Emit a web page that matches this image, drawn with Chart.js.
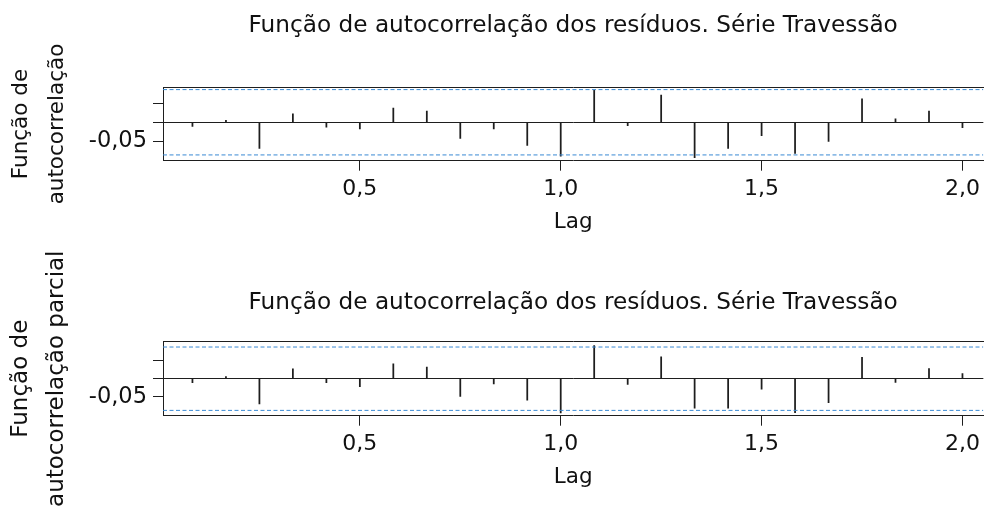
<!DOCTYPE html>
<html>
<head>
<meta charset="utf-8">
<script src="https://cdn.jsdelivr.net/npm/chart.js@4/dist/chart.umd.min.js"></script>
<style>
  body { margin: 0; background: #fff; }
  #wrap { position: relative; width: 985px; height: 509px; overflow: hidden; }
  canvas { position: absolute; left: 0; }
</style>
</head>
<body>
<div id="wrap">
  <canvas id="acf" width="985" height="255" style="top:0"></canvas>
  <canvas id="pacf" width="985" height="274" style="top:235px"></canvas>
</div>
<script>
// lags in years (k/12)
const lags = [0.0833, 0.1667, 0.25, 0.3333, 0.4167, 0.5, 0.5833, 0.6667, 0.75, 0.8333, 0.9167, 1.0,
              1.0833, 1.1667, 1.25, 1.3333, 1.4167, 1.5, 1.5833, 1.6667, 1.75, 1.8333, 1.9167, 2.0];

// autocorrelacao dos residuos
const acf = [-0.011, 0.005, -0.068, 0.022, -0.013, -0.017, 0.037, 0.029, -0.042, -0.017, -0.060, -0.088,
             0.083, -0.009, 0.071, -0.092, -0.068, -0.035, -0.081, -0.050, 0.061, 0.009, 0.029, -0.014];

// autocorrelacao parcial
const pacf = [-0.011, 0.006, -0.069, 0.027, -0.011, -0.022, 0.041, 0.032, -0.049, -0.014, -0.059, -0.094,
              0.091, -0.016, 0.060, -0.081, -0.081, -0.029, -0.093, -0.066, 0.059, -0.010, 0.028, 0.014];

const acfLimit = 0.085;
const pacfLimit = 0.087;

const xTicks = [0.5, 1.0, 1.5, 2.0];
const yTicks = [-0.05, 0, 0.05];
const yLabelled = [-0.05];
const xRange = [0.01, 2.052];

const mainTitle = 'Função de autocorrelação dos resíduos. Série Travessão';
const FONT = '"DejaVu Sans"';
const INK = '#1e1e1e';

function makeChart(id, values, limit, yMin, yMax, yTitle, cfg) {
  const band = v => [{x: xRange[0], y: v}, {x: xRange[1], y: v}];
  const bandStyle = {
    type: 'line', borderColor: '#3a8ad4', borderWidth: 1, borderDash: [4, 2.5],
    pointRadius: 0, fill: false, xAxisID: 'x', yAxisID: 'y'
  };
  return new Chart(document.getElementById(id), {
    type: 'bar',
    data: {
      datasets: [
        Object.assign({data: band(limit)}, bandStyle),
        Object.assign({data: band(-limit)}, bandStyle),
        {
          type: 'bar',
          data: lags.map((x, i) => ({x: x, y: values[i]})),
          backgroundColor: INK,
          barThickness: 1.1,
          xAxisID: 'x', yAxisID: 'y'
        }
      ]
    },
    options: {
      responsive: false,
      animation: false,
      layout: {padding: 0},
      plugins: {legend: {display: false}, tooltip: {enabled: false}},
      scales: {
        // top axis only carries the title and the top edge of the box
        top: {
          type: 'linear', position: 'top', min: xRange[0], max: xRange[1],
          ticks: {display: false},
          grid: {display: false, drawTicks: false},
          border: {display: true, color: INK, width: 1},
          title: {display: true, text: mainTitle, color: '#111',
                  font: {family: FONT, size: 23.2, lineHeight: 1.2},
                  padding: {top: cfg.titleTop, bottom: 0}},
          afterFit: a => { a.height = cfg.topH; }
        },
        x: {
          type: 'linear', position: 'bottom', min: xRange[0], max: xRange[1], offset: false,
          afterBuildTicks: a => { a.ticks = xTicks.map(v => ({value: v})); },
          ticks: {color: '#111', padding: 5, maxRotation: 0,
                  font: {family: FONT, size: 22, lineHeight: 1.2},
                  callback: v => v.toFixed(1).replace('.', ',')},
          grid: {drawOnChartArea: false, tickLength: 10, color: INK, offset: false},
          border: {display: true, color: INK, width: 1},
          title: {display: true, text: 'Lag', color: '#111',
                  font: {family: FONT, size: 21.5, lineHeight: 1.2},
                  padding: {top: 0, bottom: cfg.lagBottom}},
          afterFit: a => { a.height = cfg.bottomH; }
        },
        y: {
          min: yMin, max: yMax,
          afterBuildTicks: a => { a.ticks = yTicks.map(v => ({value: v})); },
          ticks: {color: '#111', padding: 6,
                  font: {family: FONT, size: 22.5, lineHeight: 1.2},
                  callback: v => yLabelled.includes(v) ? v.toFixed(2).replace('.', ',') : ''},
          grid: {drawOnChartArea: true, tickLength: 10, tickColor: INK,
                 color: c => (c.tick && c.tick.value === 0) ? INK : 'rgba(0,0,0,0)'},
          border: {display: true, color: INK, width: 1},
          title: {display: true, text: yTitle, color: '#111',
                  font: {family: FONT, size: cfg.ySize, lineHeight: 36.3 / cfg.ySize},
                  padding: {top: 3, bottom: 0}},
          afterFit: a => { a.width = 163; }
        }
      }
    }
  });
}

makeChart('acf', acf, acfLimit, -0.100, 0.091, ['Função de', 'autocorrelação'],
          {titleTop: 11.8, topH: 87.3, bottomH: 94.3, lagBottom: 19.8, ySize: 21.5});
// bottom canvas starts 20px higher so its rotated title can spill upward
makeChart('pacf', pacf, pacfLimit, -0.1016, 0.1016, ['Função de', 'autocorrelação parcial'],
          {titleTop: 53.8, topH: 106.7, bottomH: 93.3, lagBottom: 18.8, ySize: 23});
</script>
</body>
</html>
